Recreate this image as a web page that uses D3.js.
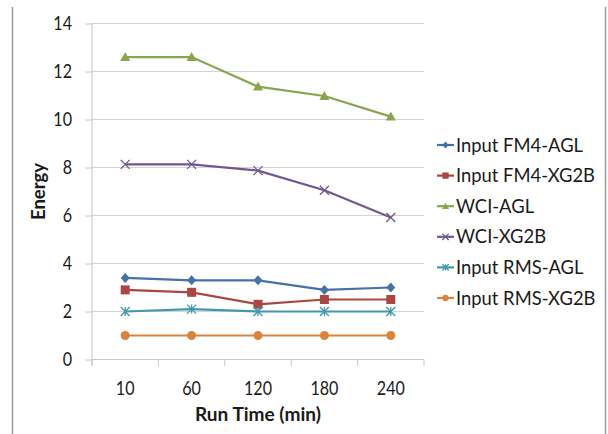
<!DOCTYPE html>
<html><head><meta charset="utf-8">
<script src="https://cdn.jsdelivr.net/npm/d3@7"></script>
<style>
body{margin:0;background:#fff;}
svg{display:block;font-family:Lato,"Open Sans",sans-serif;}
</style></head>
<body>
<svg id="c" width="608" height="434"></svg>
<script>
const categories = ["10","60","120","180","240"];
const yTicks = [0,2,4,6,8,10,12,14];
const seriesNames = ["Input FM4-AGL","Input FM4-XG2B","WCI-AGL","WCI-XG2B","Input RMS-AGL","Input RMS-XG2B"];
const fm4Agl  = [3.4, 3.3, 3.3, 2.9, 3.0];
const fm4Xg2b = [2.9, 2.8, 2.3, 2.5, 2.5];
const wciAgl  = [12.6, 12.6, 11.37, 10.98, 10.12];
const wciXg2b = [8.13, 8.13, 7.87, 7.05, 5.92];
const rmsAgl  = [2.0, 2.1, 2.0, 2.0, 2.0];
const rmsXg2b = [1.0, 1.0, 1.0, 1.0, 1.0];
const xTitle = "Run Time (min)";
const yTitle = "Energy";

const series = [
  {name: seriesNames[0], values: fm4Agl,  color:"#4572A7", marker:"diamond"},
  {name: seriesNames[1], values: fm4Xg2b, color:"#AA4643", marker:"square"},
  {name: seriesNames[2], values: wciAgl,  color:"#89A54E", marker:"triangle"},
  {name: seriesNames[3], values: wciXg2b, color:"#71588F", marker:"x"},
  {name: seriesNames[4], values: rmsAgl,  color:"#4198AF", marker:"star"},
  {name: seriesNames[5], values: rmsXg2b, color:"#DB843D", marker:"circle"}
];

const svg = d3.select("#c");
const L = 92, R = 424, T = 23.5, B = 359.5;

function natWidth(text, size, weight){
  const t = svg.append("text").attr("font-size",size).attr("font-weight",weight||"normal").text(text);
  const w = t.node().getComputedTextLength();
  t.remove();
  return w;
}
// horizontal condensing ratios (reference font is narrower than Lato)
const tickFS = 20, legFS = 18.5, titleFS = 19;
const tickRatio = 28 / natWidth("120", tickFS);
const legRatio = 139 / natWidth("Input FM4-XG2B", legFS);
const xtRatio = 126 / natWidth(xTitle, titleFS, "bold");
const ytRatio = 57 / natWidth(yTitle, titleFS, "bold");
function condense(sel, ratio){
  sel.each(function(){
    const w = this.getComputedTextLength();
    d3.select(this).attr("textLength", w*ratio).attr("lengthAdjust","spacingAndGlyphs");
  });
}

// outer borders
svg.append("line").attr("x1",12.5).attr("x2",12.5).attr("y1",7).attr("y2",434).attr("stroke","#9a9a9a").attr("stroke-width",1.5);
svg.append("line").attr("x1",605.5).attr("x2",605.5).attr("y1",7).attr("y2",434).attr("stroke","#9a9a9a").attr("stroke-width",1.5);

const x = d3.scaleBand().domain(categories).range([L,R]).padding(0);
const y = d3.scaleLinear().domain([0,14]).range([B,T]);
const cx = c => x(c) + x.bandwidth()/2;

// gridlines
svg.append("g").selectAll("line").data(yTicks.filter(d=>d>0)).join("line")
  .attr("x1",L).attr("x2",R).attr("y1",d=>y(d)).attr("y2",d=>y(d))
  .attr("stroke","#d4d4d4").attr("stroke-width",1);

// y axis
const yAxis = svg.append("g").attr("transform",`translate(${L},0)`)
  .call(d3.axisLeft(y).tickValues(yTicks).tickSize(7).tickPadding(13).tickFormat(d3.format("d")));
yAxis.attr("font-family",null);
yAxis.select(".domain").remove();
yAxis.selectAll(".tick line").attr("stroke","#c8c8c8");
yAxis.selectAll(".tick text").attr("font-size",tickFS).attr("fill","#1a1a1a").call(condense, tickRatio);
svg.append("line").attr("x1",L).attr("x2",L).attr("y1",T).attr("y2",B+6.5).attr("stroke","#c8c8c8");

// x axis
const xAxis = svg.append("g").attr("transform",`translate(0,${B})`)
  .call(d3.axisBottom(x).tickSize(0).tickPadding(20));
xAxis.attr("font-family",null);
xAxis.select(".domain").remove();
xAxis.selectAll(".tick text").attr("font-size",tickFS).attr("fill","#1a1a1a")
  .attr("dy",null).attr("y",35.5).call(condense, tickRatio);
const edges = categories.map(c=>x(c)).concat([x.range()[1]]);
svg.append("g").selectAll("line").data(edges).join("line")
  .attr("x1",d=>d).attr("x2",d=>d).attr("y1",B).attr("y2",B+6.5).attr("stroke","#c8c8c8");
svg.append("line").attr("x1",L).attr("x2",R).attr("y1",B).attr("y2",B).attr("stroke","#c8c8c8");

// titles
svg.append("text").attr("x",(L+R)/2).attr("y",421).attr("text-anchor","middle")
  .attr("font-size",titleFS).attr("font-weight","bold").attr("fill","#1a1a1a").text(xTitle).call(condense, xtRatio);
svg.append("text").attr("transform",`translate(45,${(T+B)/2}) rotate(-90)`).attr("text-anchor","middle")
  .attr("font-size",titleFS).attr("font-weight","bold").attr("fill","#1a1a1a").text(yTitle).call(condense, ytRatio);

function drawMarker(g, type, color, px, py, s){
  s = s || 1;
  if(type==="diamond"){
    g.append("path").attr("d",`M${px},${py-5*s}L${px+4.5*s},${py}L${px},${py+5*s}L${px-4.5*s},${py}Z`).attr("fill",color);
  } else if(type==="square"){
    g.append("rect").attr("x",px-4.5*s).attr("y",py-4.5*s).attr("width",9*s).attr("height",9*s).attr("fill",color);
  } else if(type==="triangle"){
    g.append("path").attr("d",`M${px},${py-5*s}L${px+5*s},${py+4*s}L${px-5*s},${py+4*s}Z`).attr("fill",color);
  } else if(type==="x"){
    const r=4.5*s;
    g.append("path").attr("d",`M${px-r},${py-r}L${px+r},${py+r}M${px-r},${py+r}L${px+r},${py-r}`).attr("stroke",color).attr("stroke-width",1.3).attr("fill","none");
  } else if(type==="star"){
    const r=4.5*s;
    g.append("path").attr("d",`M${px-r},${py-r}L${px+r},${py+r}M${px-r},${py+r}L${px+r},${py-r}M${px},${py-r}L${px},${py+r}`).attr("stroke",color).attr("stroke-width",1.3).attr("fill","none");
  } else if(type==="circle"){
    g.append("circle").attr("cx",px).attr("cy",py).attr("r",4.5*s).attr("fill",color);
  }
}

const line = d3.line().x((d,i)=>cx(categories[i])).y(d=>y(d));
series.forEach(s=>{
  const g = svg.append("g");
  g.append("path").attr("d",line(s.values)).attr("fill","none").attr("stroke",s.color).attr("stroke-width",2.2);
  s.values.forEach((v,i)=>drawMarker(g,s.marker,s.color,cx(categories[i]),y(v)));
});

// legend
const legY = d3.scalePoint().domain(seriesNames).range([145,298]);
series.forEach(s=>{
  const g = svg.append("g");
  const ly = legY(s.name);
  g.append("line").attr("x1",437).attr("x2",454).attr("y1",ly).attr("y2",ly).attr("stroke",s.color).attr("stroke-width",2.2);
  drawMarker(g,s.marker,s.color,445.5,ly,0.7);
  g.append("text").attr("x",456).attr("y",ly).attr("dy","0.36em").attr("font-size",legFS).attr("fill","#1a1a1a").text(s.name).call(condense, legRatio);
});
</script>
</body></html>
